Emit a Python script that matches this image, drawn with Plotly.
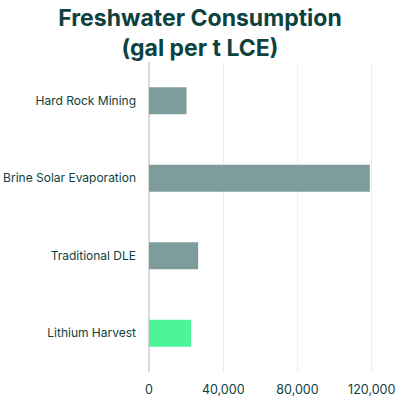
import plotly.graph_objects as go

methods = ["Hard Rock Mining", "Brine Solar Evaporation", "Traditional DLE", "Lithium Harvest"]
freshwater_gal = [20200, 119000, 26500, 22700]
bar_colors = ["#7f9c9d", "#7f9c9d", "#7f9c9d", "#4cf597"]

tick_vals = [0, 40000, 80000, 120000]
tick_text = ["0", "40,000", "80,000", "120,000"]

text_color = "#0d4240"

fig = go.Figure(
    go.Bar(
        x=freshwater_gal,
        y=methods,
        orientation="h",
        marker=dict(color=bar_colors, line=dict(width=0)),
        width=0.35,
    )
)

fig.update_layout(
    width=400,
    height=400,
    template="plotly_white",
    paper_bgcolor="white",
    plot_bgcolor="white",
    margin=dict(l=149, r=19, t=62, b=28),
    showlegend=False,
    font=dict(family="Inter, Lato, sans-serif", color=text_color, size=12),
    title=dict(
        text="<b>Freshwater Consumption<br>(gal per t LCE)</b>",
        x=0.5,
        xref="container",
        xanchor="center",
        y=0.934,
        yref="container",
        yanchor="middle",
        font=dict(size=23, color=text_color, family="Inter, Lato, sans-serif"),
    ),
)

fig.update_xaxes(
    range=[0, 125000],
    tickvals=tick_vals,
    ticktext=tick_text,
    showgrid=True,
    gridcolor="#eeeeee",
    gridwidth=1,
    zeroline=True,
    zerolinecolor="#d9d9d9",
    zerolinewidth=2,
    showline=False,
    ticks="",
    automargin=False,
    ticklabelstandoff=8,
    tickfont=dict(size=12.5, color=text_color),
)
fig.update_yaxes(
    autorange="reversed",
    showgrid=False,
    showline=False,
    ticks="",
    automargin=False,
    ticklabelstandoff=12,
    tickfont=dict(size=12, color=text_color),
)

# drop the browser's default body margin so the 400px figure fills the window
fig.write_html(
    "out.html",
    config={"displayModeBar": False},
    post_script="document.body.style.margin = '0';",
)
